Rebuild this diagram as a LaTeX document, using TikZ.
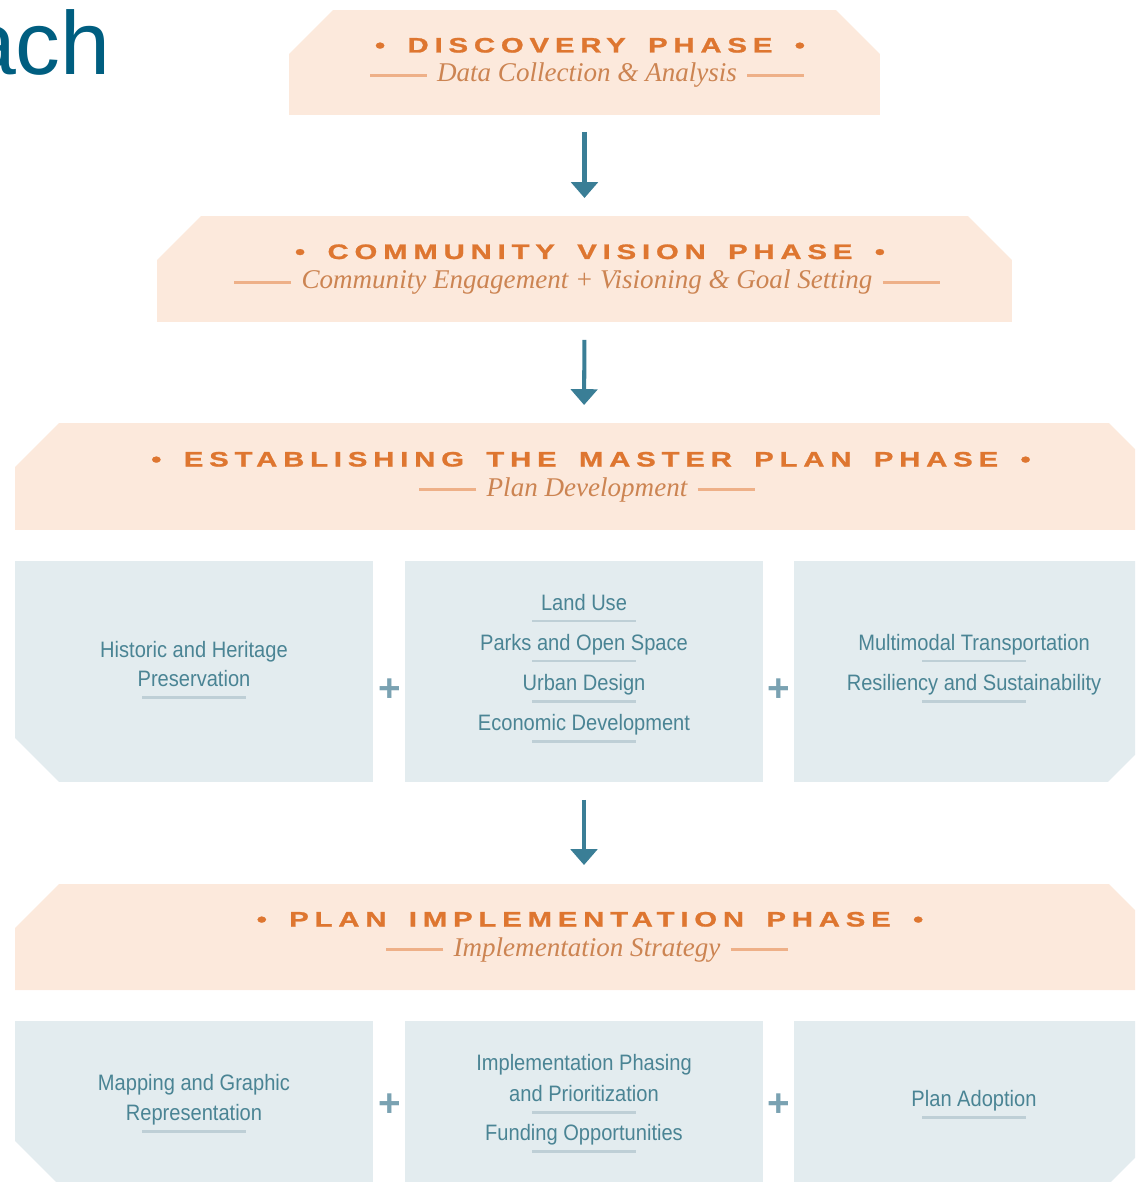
\documentclass[tikz,border=0pt]{standalone}
\usepackage{fontspec}
\usetikzlibrary{calc,arrows.meta}

\newfontfamily\headfont[FakeStretch=1.4,LetterSpace=28,WordSpace=1.6,BoldFeatures={FakeBold=1.2}]{Liberation Sans}
\newfontfamily\subfont{Liberation Serif}
\newfontfamily\itemfont[FakeStretch=0.9]{Liberation Sans}
\newfontfamily\plainsans{Liberation Sans}

\definecolor{phasefill}{RGB}{252,233,220}
\definecolor{phaseorange}{RGB}{222,118,48}
\definecolor{subtan}{RGB}{204,132,82}
\definecolor{subrule}{RGB}{238,176,136}
\definecolor{topicfill}{RGB}{227,236,239}
\definecolor{topicteal}{RGB}{74,132,148}
\definecolor{topicrule}{RGB}{190,207,214}
\definecolor{arrowteal}{RGB}{58,126,150}
\definecolor{plusgray}{RGB}{122,162,178}
\definecolor{headblue}{RGB}{0,94,128}

\def\cutsize{0.88cm}

\tikzset{
  boxbase/.style={rectangle, inner sep=0pt, outer sep=0pt, fill=white},
  phasebox/.style={boxbase, path picture={
    \fill[phasefill] ([yshift=-\cutsize]path picture bounding box.north west)
      -- ([xshift=\cutsize]path picture bounding box.north west)
      -- ([xshift=-\cutsize]path picture bounding box.north east)
      -- ([yshift=-\cutsize]path picture bounding box.north east)
      -- (path picture bounding box.south east)
      -- (path picture bounding box.south west) -- cycle;}},
  topicbox/.style={boxbase, fill=topicfill, minimum width=7.16cm},
  topicbox sw/.style={boxbase, minimum width=7.16cm, path picture={
    \fill[topicfill] (path picture bounding box.north west)
      -- (path picture bounding box.north east)
      -- (path picture bounding box.south east)
      -- ([xshift=\cutsize]path picture bounding box.south west)
      -- ([yshift=\cutsize]path picture bounding box.south west) -- cycle;}},
  topicbox se/.style={boxbase, minimum width=7.16cm, path picture={
    \fill[topicfill] (path picture bounding box.north west)
      -- (path picture bounding box.north east)
      -- ([yshift=\cutsize]path picture bounding box.south east)
      -- ([xshift=-\cutsize]path picture bounding box.south east)
      -- (path picture bounding box.south west) -- cycle;}},
  phasetitle/.style={anchor=base, inner sep=0pt, text=phaseorange,
    font=\headfont\bfseries\fontsize{11.9}{14}\selectfont},
  phasesub/.style={anchor=base, inner sep=0pt, text=subtan,
    font=\subfont\itshape\fontsize{15.4}{18}\selectfont},
  subline/.style={draw=subrule, line width=1.4pt},
  topic/.style={anchor=base, inner sep=0pt, text=topicteal,
    font=\itemfont\fontsize{12.7}{15}\selectfont},
  topicline/.style={draw=topicrule, line width=1.7pt},
  flow/.style={draw=arrowteal, line width=2.3pt,
    -{Triangle[width=15pt,length=9pt]}},
  plussign/.style={inner sep=0pt, text=plusgray,
    font=\plainsans\bfseries\fontsize{22}{22}\selectfont}
}

\begin{document}
\begin{tikzpicture}[x=0.02cm,y=-0.02cm]
\useasboundingbox (0,0) rectangle (1135,1182);
\clip (0,0) rectangle (1135,1182);

% heading remnant
\node[anchor=base east, inner sep=0pt, text=headblue,
  font=\plainsans\fontsize{51}{51}\selectfont] (head) at (111,75) {ach};

% phase boxes
\node[phasebox, minimum width=11.82cm, minimum height=2.10cm] (disc) at (584.5,62.5) {};
\node[phasebox, minimum width=17.10cm, minimum height=2.12cm] (comm) at (584.5,269) {};
\node[phasebox, minimum width=22.76cm, minimum height=2.14cm] (estab) at (584,476.5) {};
\node[phasebox, minimum width=22.76cm, minimum height=2.12cm] (impl) at (584,937) {};

% topic boxes
\node[topicbox sw, minimum height=4.42cm] (hist) at (194,671.5) {};
\node[topicbox, minimum height=4.42cm] (land) at (584,671.5) {};
\node[topicbox se, minimum height=4.42cm] (mobil) at (973,671.5) {};
\node[topicbox sw, minimum height=3.28cm] (mapg) at (194,1103) {};
\node[topicbox, minimum height=3.28cm] (phas) at (584,1103) {};
\node[topicbox se, minimum height=3.28cm] (adopt) at (973,1103) {};

% titles
\node[phasetitle] (disc-t) at (590,52.5) {• DISCOVERY PHASE •};
\node[phasesub] (disc-s) at (587,82) {Data Collection \& Analysis};
\node[phasetitle] (comm-t) at (590,259) {• COMMUNITY VISION PHASE •};
\node[phasesub] (comm-s) at (587,289) {Community Engagement + Visioning \& Goal Setting};
\node[phasetitle] (estab-t) at (591,466.5) {• ESTABLISHING THE MASTER PLAN PHASE •};
\node[phasesub] (estab-s) at (587,496) {Plan Development};
\node[phasetitle] (impl-t) at (590,926.5) {• PLAN IMPLEMENTATION PHASE •};
\node[phasesub] (impl-s) at (587,956) {Implementation Strategy};

\foreach \s in {disc-s,comm-s,estab-s,impl-s}{
  \draw[subline] ($(\s.west)+(-10,0)$) -- ++(-57,0);
  \draw[subline] ($(\s.east)+(10,0)$) -- ++(57,0);
}

% topics, first row
\node[topic] (hist-a) at (194,657) {Historic and Heritage};
\node[topic] (hist-b) at (194,686) {Preservation};
\node[topic] (lu) at (584,610) {Land Use};
\node[topic] (parks) at (584,650) {Parks and Open Space};
\node[topic] (urban) at (584,690) {Urban Design};
\node[topic] (econ) at (584,730) {Economic Development};
\node[topic] (multi) at (974,650) {Multimodal Transportation};
\node[topic] (resil) at (974,690) {Resiliency and Sustainability};

% topics, second row
\node[topic] (map-a) at (194,1090) {Mapping and Graphic};
\node[topic] (map-b) at (194,1120) {Representation};
\node[topic] (imp-a) at (584,1070) {Implementation Phasing};
\node[topic] (imp-b) at (584,1101) {and Prioritization};
\node[topic] (fund) at (584,1140) {Funding Opportunities};
\node[topic] (pa) at (974,1106) {Plan Adoption};

\foreach \t in {hist-b,lu,parks,urban,econ,multi,resil,map-b,imp-b,fund,pa}{
  \draw[topicline] ($(\t.base)+(-52,11)$) -- ++(104,0);
}

% plus signs
\node[plussign] (plus1) at (390,690) {+};
\node[plussign] (plus2) at (779,690) {+};
\node[plussign] (plus3) at (390,1105) {+};
\node[plussign] (plus4) at (779,1105) {+};

% flow
\draw[flow, shorten <=0.34cm, shorten >=0.36cm] (disc.south) -- (comm.north);
\draw[flow, shorten <=0.36cm, shorten >=0.36cm] (comm.south) -- (estab.north);
\draw[flow, shorten <=0.36cm, shorten >=0.38cm] (land.south) -- (impl.north);
\end{tikzpicture}
\end{document}
